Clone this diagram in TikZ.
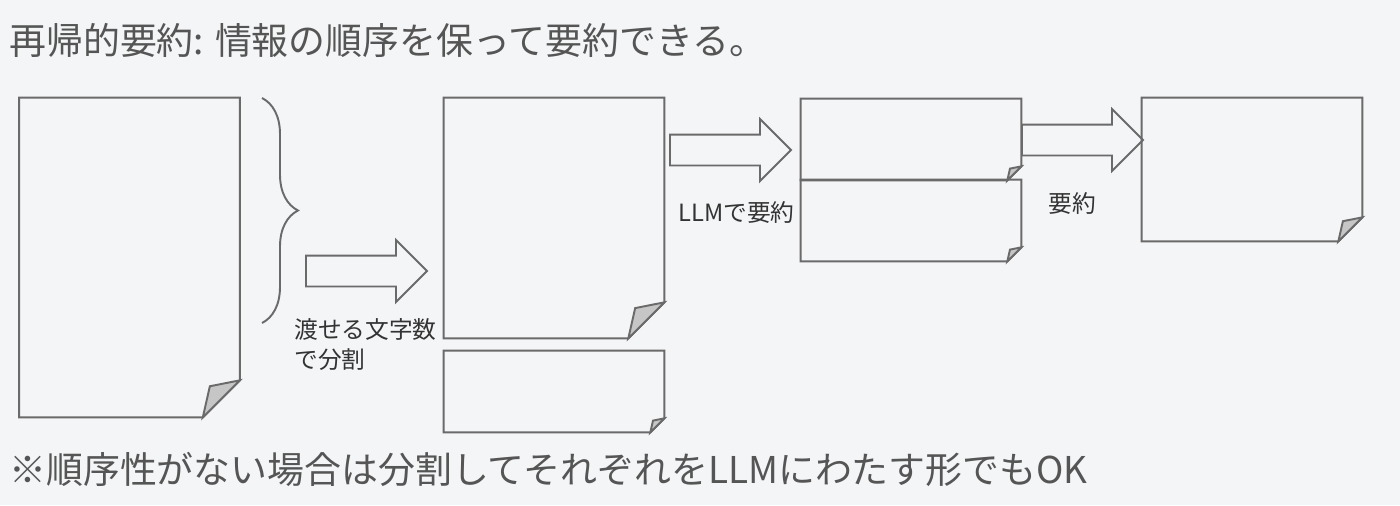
\documentclass[tikz,border=0pt]{standalone}
\usepackage{fontspec}
\setmainfont{Noto Sans CJK JP}
\usepackage{tikz}
\usetikzlibrary{shapes.arrows}
\usetikzlibrary{calc, decorations.pathreplacing}
\definecolor{bgcol}{HTML}{F4F5F7}
\definecolor{linecol}{HTML}{6A6A6A}
\definecolor{flapcol}{HTML}{C6C6C6}
\definecolor{txtcol}{HTML}{555555}
% outline of a sheet with its lower right corner turned up
\newcommand{\pagefold}[2]{%
	\draw[pageline] (#1.north west) -- (#1.north east) -- ($(#1.south east)+(0,-#2)$) -- ($(#1.south east)+(-#2,0)$) -- (#1.south west) -- cycle;
	\filldraw[pageline, fill=flapcol] ($(#1.south east)+(0,-#2)$) -- ++(-0.81*#2,0.16*#2) -- ($(#1.south east)+(-#2,0)$) -- cycle;
}

\begin{document}
\begin{tikzpicture}[
		x=0.02cm, y=-0.02cm,
		sheet/.style={rectangle, inner sep=0pt, minimum width=4.4cm, minimum height=#1},
		pageline/.style={draw=linecol, line width=1.1pt, line join=miter},
		blockarrow/.style={single arrow, draw=linecol, line width=1.1pt, fill=bgcol, inner xsep=0pt, inner ysep=0.29cm, minimum height=2.42cm, minimum width=1.2cm, single arrow head extend=0.31cm, anchor=tail},
		lbl/.style={font=\fontsize{13.5}{17}\selectfont, text=black!80, inner sep=0pt},
		ttl/.style={font=\fontsize{21}{25}\selectfont, text=txtcol, anchor=west, inner sep=0pt},
		brace/.style={draw=linecol, line width=1.1pt, decorate, decoration={brace, amplitude=0.72cm}}
		]
		
		\path[use as bounding box, fill=bgcol] (0,0) rectangle (1400,505);
		
		\node[ttl] (title) at (9, 40) {再帰的要約: 情報の順序を保って要約できる。};
		\node[ttl] (note) at (9, 469) {※順序性がない場合は分割してそれぞれをLLMにわたす形でもOK};
		
		% original text
		\node[sheet=6.38cm] (p1) at (129.5, 257.5) {};
		\pagefold{p1}{37}
		\coordinate (b1) at (262, 98);
		\coordinate (b2) at (262, 323);
		\draw[brace] (b1) -- (b2);
		
		\node[blockarrow] (a1) at (305, 271) {};
		\node[lbl, anchor=north west, align=left] (l1) at (294, 318) {渡せる文字数\\で分割};
		
		% chunks
		\node[sheet=4.8cm] (p2) at (554, 218) {};
		\pagefold{p2}{36}
		\node[sheet=1.62cm] (p3) at (554, 391.5) {};
		\pagefold{p3}{14}
		
		\node[blockarrow] (a2) at (669, 150) {};
		\node[lbl, anchor=west] (l2) at (678, 212) {LLMで要約};
		
		% summaries of the chunks
		\node[sheet=1.62cm] (p4) at (911, 139.5) {};
		\pagefold{p4}{14}
		\node[sheet=1.62cm] (p5) at (911, 220.5) {};
		\pagefold{p5}{14}
		
		\node[blockarrow] (a3) at (1021, 140) {};
		\node[lbl, anchor=west] (l3) at (1048, 203) {要約};
		
		% final summary
		\node[sheet=2.86cm] (p6) at (1252, 169.5) {};
		\pagefold{p6}{24}
		
\end{tikzpicture}
\end{document}
